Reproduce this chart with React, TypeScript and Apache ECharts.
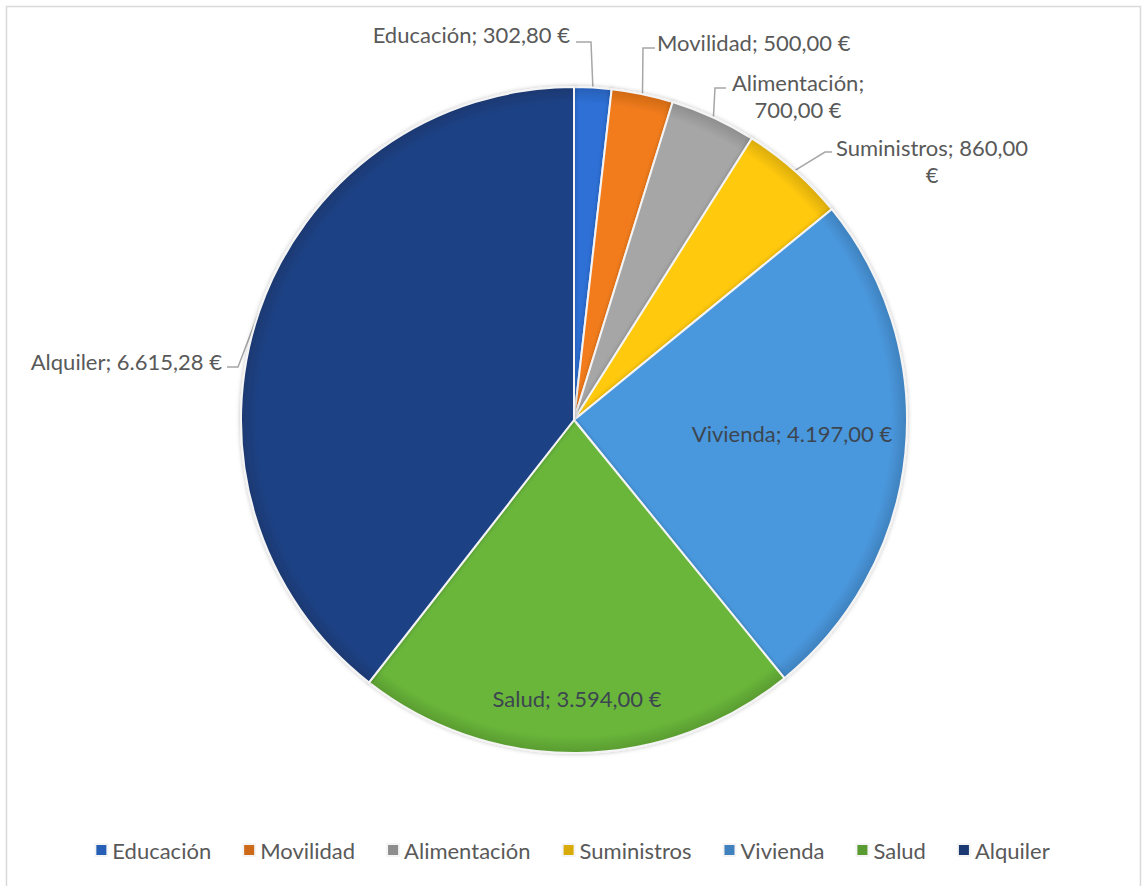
import React, { useEffect, useRef } from "react";
import * as echarts from "echarts";

const categories = ["Educación", "Movilidad", "Alimentación", "Suministros", "Vivienda", "Salud", "Alquiler"];
const values = [302.8, 500, 700, 860, 4197, 3594, 6615.28];
const colors = ["#2e70d6", "#f27c1b", "#a6a6a6", "#ffc90a", "#4a98de", "#69b63a", "#1e4285"];
// label line breaks: text after which a newline is inserted (null = none)
const labelBreaks: (string | null)[] = [null, null, "name", "value", null, null, null];
const insideLabels = [false, false, false, false, true, true, false];

// label placement (annotation layout)
const labelLayoutTable: Record<number, { x: number; y: number; align: string; elbow?: number[]; end?: number[] }> = {
  0: { x: 570, y: 34, align: "right", elbow: [591, 42], end: [576, 42] },
  1: { x: 657, y: 42, align: "left", elbow: [643, 48], end: [655, 48] },
  2: { x: 798, y: 96, align: "center", elbow: [715, 88], end: [726, 88] },
  3: { x: 932, y: 161, align: "center", elbow: [825, 152], end: [832, 152] },
  4: { x: 792, y: 433, align: "center" },
  5: { x: 577, y: 698, align: "center" },
  6: { x: 222, y: 361, align: "right", elbow: [238, 367], end: [227, 367] },
};

function fmt(v: number): string {
  const [i, d] = v.toFixed(2).split(".");
  const withDots = i.replace(/\B(?=(\d{3})+(?!\d))/g, ".");
  return withDots + "," + d;
}

function labelText(idx: number): string {
  const name = categories[idx];
  const num = fmt(values[idx]);
  const br = labelBreaks[idx];
  if (br === "name") return `${name};\n${num} €`;
  if (br === "value") return `${name}; ${num}\n€`;
  return `${name}; ${num} €`;
}

function darken(hex: string, k: number): string {
  const n = parseInt(hex.slice(1), 16);
  const r = Math.round(((n >> 16) & 255) * (1 - k));
  const g = Math.round(((n >> 8) & 255) * (1 - k));
  const b = Math.round((n & 255) * (1 - k));
  return `rgb(${r},${g},${b})`;
}

function shade(c: string) {
  return {
    type: "radial",
    x: 574,
    y: 420,
    r: 333,
    global: true,
    colorStops: [
      { offset: 0, color: c },
      { offset: 0.95, color: c },
      { offset: 1, color: darken(c, 0.15) },
    ],
  };
}

export default function App() {
  const ref = useRef<HTMLDivElement>(null);
  useEffect(() => {
    if (!ref.current) return;
    const chart = echarts.init(ref.current, undefined, { renderer: "svg" });
    const font = "Lato, 'Liberation Sans', sans-serif";
    chart.setOption({
      animation: false,
      backgroundColor: "#ffffff",
      color: colors,
      graphic: [
        {
          type: "rect",
          shape: { x: 6.5, y: 6.5, width: 1134, height: 900 },
          style: { fill: "none", stroke: "#d9d9d9", lineWidth: 1.5 },
          silent: true,
        },
      ],
      legend: {
        bottom: 20,
        left: "center",
        itemWidth: 12,
        itemHeight: 12,
        itemGap: 31,
        icon: "rect",
        textStyle: { fontFamily: font, fontSize: 22, color: "#595959" },
        data: categories,
      },
      series: [
        {
          type: "pie",
          center: [574, 420],
          radius: 333,
          startAngle: 90,
          clockwise: true,
          avoidLabelOverlap: false,
          itemStyle: {
            borderColor: "#f4f4f4",
            borderWidth: 2,
            shadowBlur: 4,
            shadowColor: "rgba(0,0,0,0.25)",
          },
          label: {
            fontFamily: font,
            fontSize: 22,
            lineHeight: 27,
            color: "#595959",
          },
          labelLine: {
            show: true,
            lineStyle: { color: "#a6a6a6", width: 1.5 },
          },
          labelLayout: (params: any) => {
            const p = labelLayoutTable[params.dataIndex];
            if (!p) return {};
            const out: any = { x: p.x, y: p.y, align: p.align, verticalAlign: "middle" };
            if (p.elbow && params.labelLinePoints && params.labelLinePoints[0]) {
              out.labelLinePoints = [params.labelLinePoints[0], p.elbow, p.end];
            }
            return out;
          },
          data: categories.map((name, i) => ({
            name,
            value: values[i],
            itemStyle: { color: shade(colors[i]) },
            label: insideLabels[i]
              ? { position: "inside", formatter: () => labelText(i), color: "#3d4650" }
              : { position: "outside", formatter: () => labelText(i) },
            labelLine: { show: !insideLabels[i] },
          })),
        },
      ],
    });
    return () => chart.dispose();
  }, []);
  return (
    <div
      ref={ref}
      style={{ position: "absolute", left: 0, top: 0, width: 1144, height: 886 }}
    />
  );
}
